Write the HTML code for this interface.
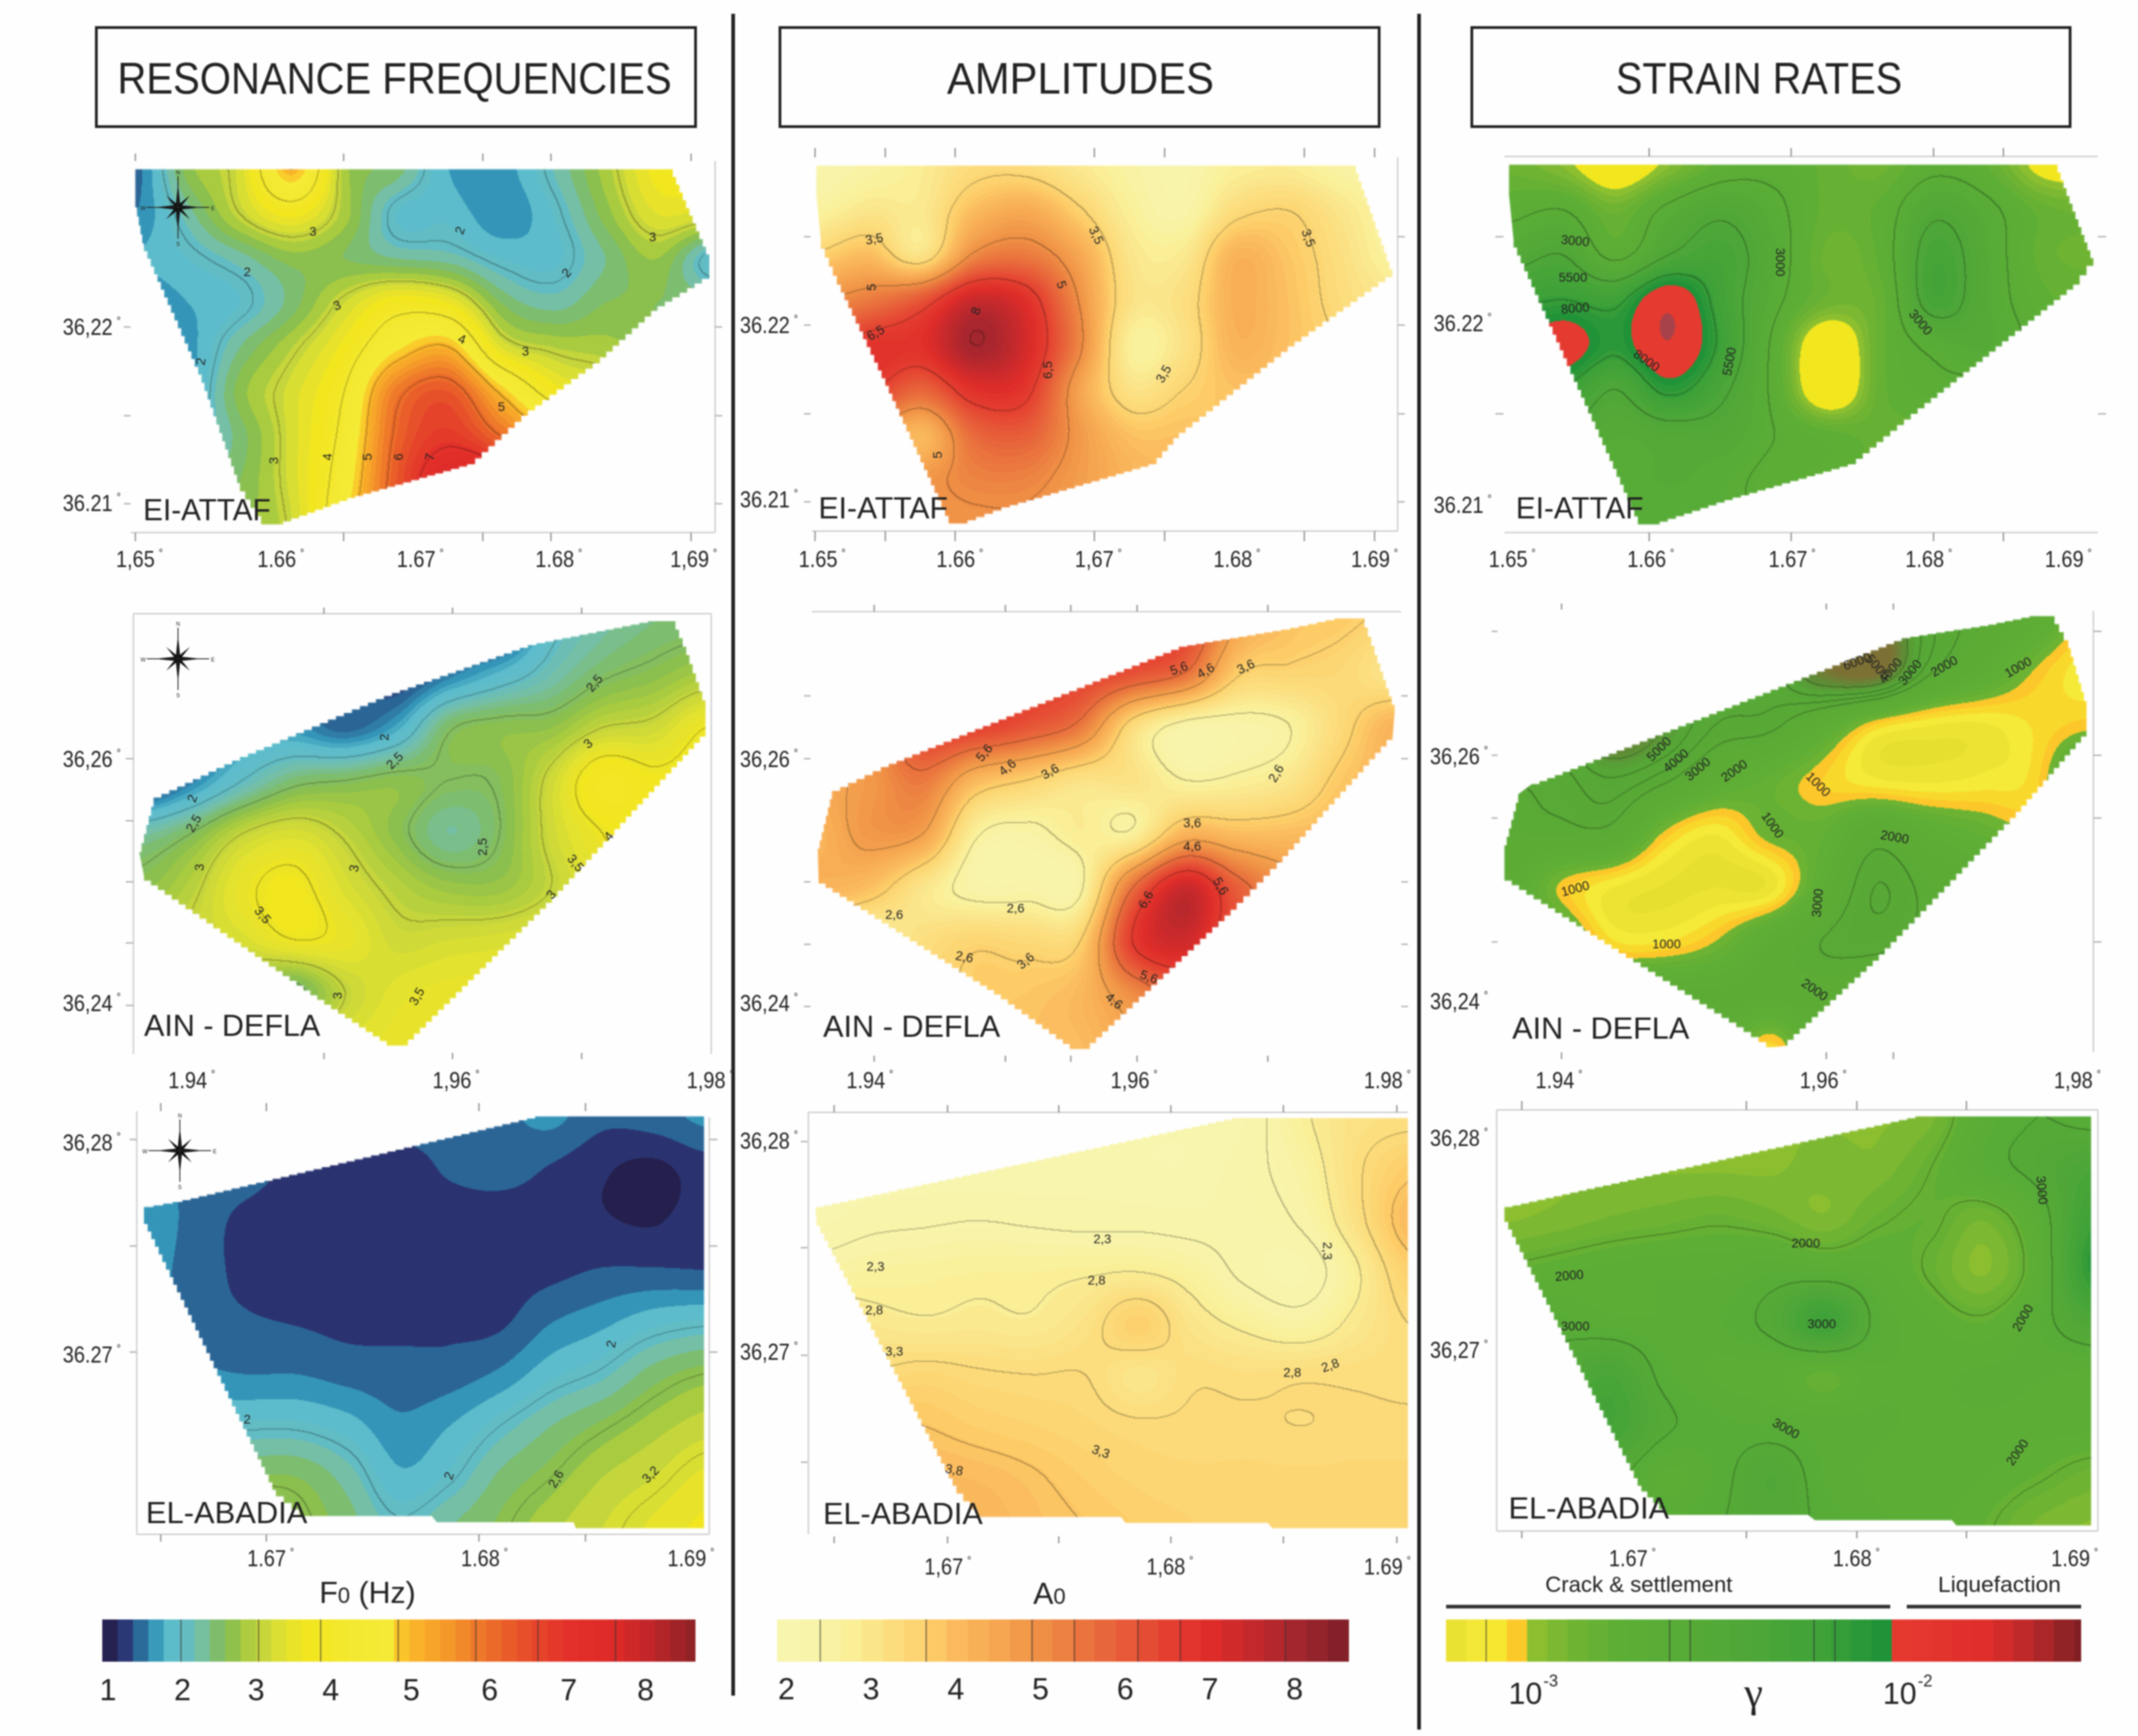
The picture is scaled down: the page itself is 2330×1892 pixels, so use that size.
<!DOCTYPE html>
<html lang="en">
<head>
<meta charset="utf-8">
<title>Resonance frequencies, amplitudes and strain rates</title>
<style>
html,body{margin:0;padding:0;background:#fefefe;}
#stage{position:relative;width:2330px;height:1892px;overflow:hidden;background:#fefefe;filter:blur(0.9px);}
#stage canvas{position:absolute;display:block;}
#overlay{position:absolute;left:0;top:0;}
#overlay text{font-family:"Liberation Sans",sans-serif;fill:#222;}
</style>
</head>
<body>
<div id="stage">
<svg id="overlay" width="2330" height="1892" viewBox="0 0 2330 1892">
  <rect x="105" y="30" width="653" height="108" fill="none" stroke="#222" stroke-width="3"/>
  <rect x="850" y="30" width="653" height="108" fill="none" stroke="#222" stroke-width="3"/>
  <rect x="1604" y="30" width="652" height="108" fill="none" stroke="#222" stroke-width="3"/>
  <text x="128" y="102" font-size="48" textLength="604" lengthAdjust="spacingAndGlyphs">RESONANCE FREQUENCIES</text>
  <text x="1032" y="102" font-size="48" textLength="291" lengthAdjust="spacingAndGlyphs">AMPLITUDES</text>
  <text x="1761" y="102" font-size="48" textLength="312" lengthAdjust="spacingAndGlyphs">STRAIN RATES</text>
  <line x1="799" y1="15" x2="799" y2="1848" stroke="#222" stroke-width="4"/>
  <line x1="1546.5" y1="15" x2="1546.5" y2="1885" stroke="#222" stroke-width="4"/>

  <g id="frames"></g>
  <g id="contour-labels"></g>
  <g id="tick-labels"></g>
  <g id="compasses"></g>
  <g id="colorbars"></g>

  <text x="156" y="567" font-size="33" textLength="139" lengthAdjust="spacingAndGlyphs">EI-ATTAF</text>
  <text x="892" y="565" font-size="33" textLength="141" lengthAdjust="spacingAndGlyphs">EI-ATTAF</text>
  <text x="1652" y="565" font-size="33" textLength="139" lengthAdjust="spacingAndGlyphs">EI-ATTAF</text>
  <text x="157" y="1129" font-size="33" textLength="192" lengthAdjust="spacingAndGlyphs">AIN - DEFLA</text>
  <text x="897" y="1130" font-size="33" textLength="193" lengthAdjust="spacingAndGlyphs">AIN - DEFLA</text>
  <text x="1648" y="1132" font-size="33" textLength="193" lengthAdjust="spacingAndGlyphs">AIN - DEFLA</text>
  <text x="159" y="1660" font-size="33" textLength="176" lengthAdjust="spacingAndGlyphs">EL-ABADIA</text>
  <text x="897" y="1661" font-size="33" textLength="174" lengthAdjust="spacingAndGlyphs">EL-ABADIA</text>
  <text x="1644" y="1655" font-size="33" textLength="175" lengthAdjust="spacingAndGlyphs">EL-ABADIA</text>

  <text x="348" y="1747" font-size="33">F<tspan font-size="24">0</tspan> (Hz)</text>
  <text x="1126" y="1748" font-size="33">A<tspan font-size="24">0</tspan></text>
  <text x="1684" y="1735" font-size="24" textLength="204" lengthAdjust="spacingAndGlyphs" fill="#444">Crack &amp; settlement</text>
  <text x="2112" y="1735" font-size="24" textLength="134" lengthAdjust="spacingAndGlyphs">Liquefaction</text>
  <line x1="1576" y1="1751" x2="2060" y2="1751" stroke="#333" stroke-width="4"/>
  <line x1="2078" y1="1751" x2="2268" y2="1751" stroke="#333" stroke-width="4"/>
  <text x="1644" y="1857" font-size="33">10</text>
  <text x="1682" y="1838" font-size="18">-3</text>
  <text x="1911" y="1860" font-size="46" text-anchor="middle" style="font-family:'Liberation Serif',serif">γ</text>
  <text x="2052" y="1857" font-size="33">10</text>
  <text x="2090" y="1838" font-size="18">-2</text>
</svg>
</div>

<script>
/* ---------- colour scales: [value, colour] ---------- */
const f0Stops=[[0.9,'#241f4d'],[1,'#241f4d'],[1.2,'#2a3370'],[1.4,'#2a6596'],[1.6,'#3495b8'],[1.8,'#5cbccb'],[2,'#62bcc4'],[2.2,'#75bfa6'],[2.4,'#7dbd70'],[2.6,'#8bbf4e'],[2.8,'#a9cb3f'],[3,'#c5d53c'],[3.3,'#e3e22f'],[3.6,'#f2e61f'],[4.2,'#f4e932'],[4.7,'#f5ea35'],[4.85,'#fbbd28'],[5.4,'#f59a2a'],[5.8,'#ee7a2a'],[6.2,'#e95e29'],[6.6,'#e5442a'],[7,'#e3302a'],[7.6,'#dd2a28'],[8,'#c5262a'],[8.65,'#8b2225']];
const a0Stops=[[1.9,'#f8f6b0'],[2.4,'#f8f3a8'],[2.7,'#faf09a'],[3,'#fbe58a'],[3.4,'#fcd977'],[3.7,'#fdcd68'],[4,'#fbbb5e'],[4.5,'#f6a750'],[5,'#ef8f45'],[5.5,'#ea743e'],[6,'#e75a38'],[6.5,'#e43f30'],[7,'#df2c2a'],[7.5,'#c4292c'],[8,'#a4262e'],[8.65,'#7c1f28']];
const strainStops=[[-3.22,'#e6df30'],[-3.12,'#f5ea38'],[-3.06,'#f7e52e'],[-3.03,'#fbcb2a'],[-3,'#fcc52a'],[-2.995,'#93c22f'],[-2.88,'#72b433'],[-2.75,'#5dae35'],[-2.45,'#52a838'],[-2.2,'#3fa238'],[-2.02,'#1d9038'],[-2,'#e53a30'],[-1.75,'#e02d2a'],[-1.62,'#b5282a'],[-1.49,'#7a1e22']];
const strainAttafStops=[[-3.22,'#f2e61f'],[-3.0,'#f2e61f'],[-2.995,'#93c22f'],[-2.88,'#72b433'],[-2.75,'#5dae35'],[-2.45,'#52a838'],[-2.2,'#3fa238'],[-2.02,'#1d9038'],[-2,'#e53a30'],[-1.81,'#e53a30'],[-1.77,'#a8424a'],[-1.5,'#a8424a']];
const strainBrownStops=[[-3.22,'#e6df30'],[-3.14,'#f5ea38'],[-3.09,'#f7e52e'],[-3.07,'#fbcb2a'],[-3,'#fcc52a'],[-2.995,'#6fb433'],[-2.88,'#5fae35'],[-2.3,'#55a636'],[-2.15,'#5f8c36'],[-2,'#7d7035'],[-1.5,'#7d7035']];

/* ---------- gridded field values (rows north to south) ---------- */
const f0Attaf=[
[1.4,2.6,3.2,5.0,2.8,2.4,1.7,1.6,2.1,2.8,3.6,3.6],
[1.5,2.2,3.0,3.6,2.8,1.9,1.85,1.55,1.9,2.6,3.3,3.2],
[1.7,1.9,2.2,2.6,2.5,2.3,2.2,1.9,1.85,2.3,2.7,1.9],
[1.5,1.7,1.9,2.4,3.1,3.7,3.5,2.5,2.2,2.5,2.5,2.4],
[1.4,1.6,2.3,2.9,3.6,4.6,5.0,3.3,2.9,2.8,2.6,2.5],
[1.4,1.6,2.6,3.2,4.0,5.8,6.3,4.9,3.7,3.3,3,3],
[1.5,1.8,2.4,3.2,4.2,6.1,6.8,6.0,5,4,4,4],
[2,2.2,2.5,3.2,4.4,6.3,7.6,7.5,6,5,5,5],
[2.4,2.5,2.6,3.1,4.6,6.4,7.6,7.6,6,5,5,5]];
const f0Defla=[
[1.6,1.6,1.6,1.6,1.6,1.6,1.4,1.1,1.9,2.2,2.35,2.4],
[1.6,1.6,1.6,1.6,1.6,1.25,1.5,1.8,2.15,2.45,2.6,2.8],
[1.3,1.3,1.6,1.6,1.4,1.7,2.45,2.6,2.65,3.0,3.1,3.5],
[1.1,1.5,2.0,2.4,2.5,2.6,2.5,2.55,3.1,3.8,3.6,3.7],
[2.2,2.5,3.0,3.2,2.95,2.6,2.25,2.5,3.1,3.5,3.7,3.8],
[2.6,2.9,3.4,3.6,3.2,2.9,2.7,2.7,3.0,3.4,3.6,3.8],
[2.8,3.0,3.2,3.5,3.4,3.1,3.15,3.2,3.3,3.4,3.4,3.4],
[2.6,2.6,2.6,2.4,3.0,3.3,3.4,3.4,3.4,3.4,3.4,3.4],
[3.3,3.3,3.3,3.3,3.3,3.4,3.5,3.5,3.5,3.5,3.5,3.5]];
const f0Abadia=[
[1.6,1.6,1.5,1.45,1.45,1.4,1.4,1.45,1.55,1.35,1.4,1.55],
[1.6,1.45,1.4,1.25,1.2,1.2,1.33,1.38,1.28,1.13,1.05,1.2],
[1.65,1.42,1.25,1.2,1.2,1.2,1.2,1.2,1.2,1.12,1.08,1.2],
[1.6,1.4,1.25,1.2,1.2,1.2,1.2,1.22,1.25,1.32,1.33,1.31],
[1.6,1.4,1.33,1.29,1.25,1.25,1.25,1.27,1.5,1.65,1.85,1.95],
[1.6,1.55,1.5,1.5,1.42,1.38,1.4,1.55,1.85,2.05,2.4,2.6],
[1.9,1.9,1.95,1.95,1.8,1.55,1.7,2.0,2.3,2.55,2.8,3.0],
[2.4,2.4,2.5,2.5,2.2,1.75,1.95,2.35,2.6,2.9,3.1,3.35],
[2.9,2.9,2.9,2.7,2.4,2.05,2.3,2.55,2.85,3.1,3.35,3.55]];
const a0Attaf=[
[2.3,2.5,2.8,3.3,3.3,2.9,2.5,2.3,2.7,2.8,2.5,2.4],
[2.6,3.0,2.9,4.0,4.4,3.6,2.7,2.4,3.3,3.5,3.0,2.5],
[3.6,4.0,3.1,5.1,5.4,4.5,3.0,2.9,4.2,3.8,3.2,2.6],
[5.0,5.4,6.1,7.4,6.9,5.0,3.1,3.2,4.3,3.9,3.3,3.0],
[6.2,6.8,6.9,8.0,7.2,5.2,2.7,3.1,4.2,3.9,3.5,3.3],
[6.6,6.6,5.8,6.9,6.7,4.6,3.1,3.5,3.9,3.8,3.6,3.5],
[5,5,4.1,5.7,5.9,4.8,3.9,3.9,3.8,3.8,3.8,3.8],
[4.8,4.8,4.8,5.2,5.2,4.7,4.2,4,4,4,4,4],
[4.8,4.8,4.8,4.9,4.9,4.6,4.2,4,4,4,4,4]];
const a0Defla=[
[6.5,6.5,6.5,6.5,6.5,6.5,6.5,6.5,4.6,3.9,3.7,3.5],
[6.5,6.5,6.5,6.5,6.5,6.5,6.2,5.6,3.7,3.5,3.4,3.0],
[4,5,6.5,6.5,6.1,5.4,3.3,2.4,2.4,2.6,3.4,4.2],
[4.4,4.8,5.4,4.1,3.6,3.1,3.1,2.6,2.7,3.0,3.8,4.2],
[4.2,4.8,4.6,2.7,2.45,2.8,2.7,4.2,4.0,4.0,4.2,4.4],
[4.2,3.9,3.0,2.4,2.4,2.5,5.6,7.4,5.9,5,5,5],
[3,2.7,3.2,3.5,3.4,3.6,6.6,7.3,6.0,6,6,6],
[3.5,3.5,3.5,3.7,3.8,4.1,5.0,5.9,6,6,6,6],
[3.8,3.8,3.8,3.8,3.9,4.0,4.5,5,5,5,5,5]];
const a0Abadia=[
[2,2,2,2,2,2,2,2,2.1,2.7,3.1,3.2],
[2,2,2,2,2,2.05,2,2,2.2,2.5,3.2,3.7],
[2.05,2.2,2.25,2.3,2.25,2.2,2.2,2.15,2.2,2.35,3.1,4.0],
[2.5,2.6,2.65,2.7,2.7,2.75,2.8,2.6,2.2,2.05,2.7,3.6],
[3.2,2.95,2.85,2.9,2.85,3.1,3.6,3.0,2.7,2.5,2.9,3.3],
[3.5,3.35,3.45,3.35,3.3,3.3,3.0,3.25,3.2,3.25,3.25,3.25],
[3.85,3.85,3.8,3.65,3.55,3.45,3.35,3.35,3.35,3.3,3.35,3.35],
[4.05,4.05,4.05,4.0,3.85,3.65,3.5,3.45,3.45,3.45,3.45,3.45],
[4.15,4.15,4.15,4.15,3.95,3.8,3.65,3.55,3.5,3.5,3.5,3.5]];
const strainAttaf=[
[-2.85,-2.95,-3.15,-2.95,-2.75,-2.7,-2.8,-2.85,-2.7,-2.78,-3.05,-3.1],
[-2.7,-2.65,-2.85,-2.6,-2.45,-2.6,-2.8,-2.75,-2.45,-2.6,-2.8,-2.85],
[-2.5,-2.4,-2.7,-2.4,-2.3,-2.55,-2.85,-2.75,-2.3,-2.55,-2.8,-2.85],
[-2.2,-2.15,-2.2,-1.85,-2.25,-2.6,-2.85,-2.8,-2.3,-2.55,-2.75,-2.8],
[-2.05,-1.9,-2.1,-1.8,-2.2,-2.7,-3.18,-2.8,-2.6,-2.55,-2.7,-2.8],
[-2,-2.15,-2.4,-2.1,-2.35,-2.7,-3.18,-2.8,-2.7,-2.7,-2.7,-2.7],
[-2.3,-2.4,-2.55,-2.5,-2.5,-2.65,-2.75,-2.8,-2.8,-2.8,-2.8,-2.8],
[-2.6,-2.6,-2.6,-2.55,-2.6,-2.7,-2.75,-2.8,-2.8,-2.8,-2.8,-2.8],
[-2.6,-2.6,-2.6,-2.6,-2.6,-2.7,-2.75,-2.8,-2.8,-2.8,-2.8,-2.8]];
const strainDefla=[
[-2.4,-2.4,-2.4,-2.4,-2.4,-2.4,-2.2,-2.0,-2.4,-2.6,-2.75,-3.02],
[-2.4,-2.4,-2.4,-2.4,-2.4,-2.4,-2.05,-1.95,-2.5,-2.75,-3.0,-3.15],
[-2.4,-2.4,-2.0,-2.2,-2.45,-2.5,-2.75,-3.05,-3.15,-3.17,-3.1,-3.03],
[-2.55,-2.5,-2.35,-2.5,-2.75,-2.9,-3.05,-3.16,-3.18,-3.15,-3.08,-2.7],
[-2.6,-2.6,-2.6,-3.0,-3.15,-2.95,-2.9,-2.65,-2.8,-2.9,-3.0,-3.0],
[-2.7,-3.0,-3.15,-3.22,-3.22,-3.2,-2.8,-2.45,-2.6,-2.7,-2.7,-2.7],
[-2.8,-2.8,-3.1,-3.12,-3.0,-2.75,-2.55,-2.5,-2.6,-2.7,-2.7,-2.7],
[-2.7,-2.7,-2.7,-2.7,-2.7,-2.7,-2.65,-2.7,-2.7,-2.7,-2.7,-2.7],
[-2.7,-2.7,-2.7,-2.7,-2.7,-3.08,-2.7,-2.7,-2.7,-2.7,-2.7,-2.7]];
const strainAbadia=[
[-2.95,-2.95,-2.95,-2.95,-2.95,-2.95,-2.95,-2.95,-2.9,-2.65,-2.55,-2.6],
[-2.95,-2.95,-2.95,-2.95,-2.95,-2.95,-2.92,-2.92,-2.8,-2.62,-2.5,-2.35],
[-2.95,-2.92,-2.88,-2.85,-2.82,-2.86,-2.93,-2.82,-2.78,-2.88,-2.65,-2.2],
[-2.78,-2.74,-2.7,-2.68,-2.68,-2.63,-2.66,-2.7,-2.82,-2.95,-2.7,-2.1],
[-2.6,-2.6,-2.65,-2.66,-2.62,-2.5,-2.2,-2.6,-2.72,-2.78,-2.62,-2.4],
[-2.5,-2.48,-2.35,-2.6,-2.68,-2.7,-2.78,-2.68,-2.68,-2.66,-2.66,-2.68],
[-2.38,-2.35,-2.28,-2.52,-2.6,-2.62,-2.65,-2.66,-2.68,-2.68,-2.7,-2.7],
[-2.5,-2.5,-2.5,-2.68,-2.6,-2.45,-2.62,-2.68,-2.7,-2.72,-2.78,-2.85],
[-2.6,-2.6,-2.6,-2.62,-2.56,-2.48,-2.58,-2.66,-2.7,-2.78,-2.9,-2.95]];

/* ---------- contour levels and printed contour labels ---------- */
const f0AttafLevels=[2,3,4,5,6,7];
const f0DeflaLevels=[2,2.5,3,3.5];
const f0AbadiaLevels=[2,2.6,3.2];
const a0AttafLevels=[3.5,5,6.5,8];
const a0DeflaLevels=[2.6,3.6,4.6,5.6,6.6];
const a0AbadiaLevels=[2.3,2.8,3.3,3.8];
const strainAttafLevels=[-2.65,-2.4,-2.15];
const strainDeflaLevels=[-2.55,-2.45,-2.35,-2.2];
const strainAbadiaLevels=[-2.8,-2.55];

/* ---------- colourbar axes ---------- */
const f0TickLabels=['1','2','3','4','5','6','7','8'];
const f0TickValues=[1,1.97,2.93,3.9,4.95,5.97,7,8];
const f0RuleValues=[1.95,2.96,3.77,4.78,5.79,6.6,7.61];
const a0TickLabels=['2','3','4','5','6','7','8'];
const a0TickValues=[2,3,4,5,6,7,8];
const a0RuleValues=[2.4,3.65,4.9,5.4,6.15,6.65,7.89];
const strainRuleValues=[-3.109,-2.611,-2.555,-2.219,-2.162];

const crops={
 a1:{ox:0,oy:0,sx:1.912,sy:2.45},b1:{ox:800,oy:0,sx:2.063,sy:2.45},c1:{ox:1550,oy:0,sx:2.01,sy:2.45},
 a2:{ox:0,oy:640,sx:1.912,sy:2.703},b2:{ox:800,oy:640,sx:2.063,sy:2.703},c2:{ox:1550,oy:640,sx:2.01,sy:2.703},
 a3:{ox:0,oy:1200,sx:1.912,sy:2.266},b3:{ox:800,oy:1200,sx:2.063,sy:2.266},c3:{ox:1550,oy:1200,sx:2.01,sy:2.266}
};
const SVGNS='http://www.w3.org/2000/svg';
function hexRgb(h){return [parseInt(h.slice(1,3),16),parseInt(h.slice(3,5),16),parseInt(h.slice(5,7),16)];}
function colorAt(stops,v){
  if(v<=stops[0][0])return hexRgb(stops[0][1]);
  for(let i=1;i<stops.length;i++){
    if(v<=stops[i][0]){
      const a=stops[i-1],b=stops[i],t=(v-a[0])/(b[0]-a[0]),ca=hexRgb(a[1]),cb=hexRgb(b[1]);
      return [ca[0]+(cb[0]-ca[0])*t,ca[1]+(cb[1]-ca[1])*t,ca[2]+(cb[2]-ca[2])*t];
    }
  }
  return hexRgb(stops[stops.length-1][1]);
}
function cr(a,b,c,d,t){return 0.5*((2*b)+(-a+c)*t+(2*a-5*b+4*c-d)*t*t+(-a+3*b-3*c+d)*t*t*t);}
function svgEl(tag,parent,attrs){
  const el=document.createElementNS(SVGNS,tag);
  for(const k in attrs)el.setAttribute(k,attrs[k]);
  parent.appendChild(el);
  return el;
}

function renderMap(p){
  const o=crops[p.crop],X=z=>o.ox+z/o.sx,Y=z=>o.oy+z/o.sy;
  const pts=p.outline.map(q=>[X(q[0]),Y(q[1])]);
  const xs=pts.map(q=>q[0]),ys=pts.map(q=>q[1]);
  const left=Math.floor(Math.min(...xs))-2,top=Math.floor(Math.min(...ys))-2;
  const W=Math.ceil(Math.max(...xs))+2-left,H=Math.ceil(Math.max(...ys))+2-top;
  const cv=document.createElement('canvas');
  
  
  cv.width=W;cv.height=H;cv.style.left=left+'px';cv.style.top=top+'px';
  document.getElementById('stage').insertBefore(cv,document.getElementById('overlay'));
  const ctx=cv.getContext('2d');
  const rows=p.values.length,cols=p.values[0].length;
  const gx0=X(p.gridX[0]),gx1=X(p.gridX[1]),gy0=Y(p.gridY[0]),gy1=Y(p.gridY[1]);
  const f=new Float32Array(W*H),line=new Float32Array(cols);
  const cl=(i,n)=>Math.max(0,Math.min(n-1,i));
  for(let y=0;y<H;y++){
    const gy=Math.max(0,Math.min(rows-1,(y+top-gy0)/(gy1-gy0)*(rows-1)));
    const j=Math.min(rows-2,Math.floor(gy)),ty=gy-j;
    for(let c=0;c<cols;c++)line[c]=cr(p.values[cl(j-1,rows)][c],p.values[j][c],p.values[j+1][c],p.values[cl(j+2,rows)][c],ty);
    for(let x=0;x<W;x++){
      const gx=Math.max(0,Math.min(cols-1,(x+left-gx0)/(gx1-gx0)*(cols-1)));
      const i=Math.min(cols-2,Math.floor(gx)),tx=gx-i;
      f[y*W+x]=cr(line[cl(i-1,cols)],line[i],line[i+1],line[cl(i+2,cols)],tx);
    }
  }
  const img=ctx.createImageData(W,H),d=img.data,cache=new Map();
  for(let k=0;k<W*H;k++){
    const q=Math.round(f[k]/p.step);
    let c=cache.get(q);
    if(!c){c=colorAt(p.stops,q*p.step);cache.set(q,c);}
    let m=1;
    const v=f[k];
    const r=(k%W<W-1)?f[k+1]:v,b=(k+W<W*H)?f[k+W]:v;
    for(const l of p.levels){
      if((v-l)*(r-l)<0||(v-l)*(b-l)<0){m=0.68;break;}
    }
    d[k*4]=c[0]*m;d[k*4+1]=c[1]*m;d[k*4+2]=c[2]*m;d[k*4+3]=255;
  }
  ctx.putImageData(img,0,0);
  ctx.globalCompositeOperation='destination-in';
  ctx.beginPath();
  pts.forEach((a,i)=>{
    const b=pts[(i+1)%pts.length];
    if(i===0)ctx.moveTo(a[0]-left,a[1]-top);
    const dx=b[0]-a[0],dy=b[1]-a[1],len=Math.hypot(dx,dy);
    if(Math.abs(dx)>6&&Math.abs(dy)>6&&len>22){
      const n=Math.floor(len/9);
      for(let s=1;s<=n;s++){
        const px=a[0]+dx*s/n,py=a[1]+dy*s/n,qy=a[1]+dy*(s-1)/n;
        ctx.lineTo(px-left,qy-top);
        ctx.lineTo(px-left,py-top);
      }
    }else ctx.lineTo(b[0]-left,b[1]-top);
  });
  ctx.closePath();ctx.fill();
  /* printed contour labels */
  const lg=document.getElementById('contour-labels');
  p.labels.forEach(L=>{
    const t=svgEl('text',lg,{'font-size':14,'text-anchor':'middle','transform':'translate('+X(L[1])+' '+Y(L[2])+') rotate('+L[3]+')','dy':5});
    
    
    t.textContent=L[0];
  });
}

function drawFrame(f){
  const o=crops[f.crop],X=z=>o.ox+z/o.sx,Y=z=>o.oy+z/o.sy;
  const g=document.getElementById('frames');
  const seg=(a,b,c,d,col)=>{
    const l=svgEl('line',g,{x1:X(a),y1:Y(b),x2:X(c),y2:Y(d),stroke:col,'stroke-width':1.6});
    
    
  };
  f.lines.forEach(q=>seg(q[0],q[1],q[2],q[3],'#cfcfcf'));
  f.xTicks.forEach(x=>{f.xBands.forEach(b=>seg(x,b[0],x,b[1],'#9a9a9a'));});
  f.yTicks.forEach(t=>{f.yBands.forEach(b=>seg(b[0],t,b[1],t,'#b5b5b5'));});
}
function tickLabel(str,x,y,anchor){
  const g=document.getElementById('tick-labels');
  const t=svgEl('text',g,{'font-size':25,'text-anchor':anchor,'transform':'translate('+x+' '+y+') scale(.87 1)','fill':'#333'});
  
  
  t.appendChild(document.createTextNode(str));
  const s=svgEl('tspan',t,{'font-size':13,'dy':-11,'dx':5});
  s.textContent='°';
}
function compass(x,y){
  const g=svgEl('g',document.getElementById('compasses'),{transform:'translate('+x+' '+y+')'});
  
  
  svgEl('polygon',g,{points:'0,-26 2.4,-2.4 26,0 2.4,2.4 0,26 -2.4,2.4 -26,0 -2.4,-2.4',fill:'#111'});
  svgEl('polygon',g,{points:'13,-13 2.6,0 13,13 0,2.6 -13,13 -2.6,0 -13,-13 0,-2.6',fill:'#111'});
  svgEl('line',g,{x1:0,y1:-34,x2:0,y2:34,stroke:'#222','stroke-width':1});
  svgEl('line',g,{x1:-34,y1:0,x2:34,y2:0,stroke:'#222','stroke-width':1});
  [['N',0,-36],['S',0,42],['E',38,3],['W',-38,3]].forEach(a=>{
    const t=svgEl('text',g,{x:a[1],y:a[2],'font-size':6,'text-anchor':'middle'});
    t.textContent=a[0];
  });
}
function drawBar(b){
  const g=svgEl('g',document.getElementById('colorbars'),{});
  
  
  const xOf=v=>b.x0+(v-b.v0)*b.k;
  const n=Math.ceil((b.vMax-b.vMin)/b.step-1e-6);
  for(let i=0;i<n;i++){
    const v=b.vMin+i*b.step,v2=Math.min(b.vMax,v+b.step),c=colorAt(b.stops,(v+v2)/2);
    const r=svgEl('rect',g,{x:xOf(v),y:b.y,width:(v2-v)*b.k+(i<n-1?0.6:0),height:b.h,fill:'rgb('+c.map(Math.round).join(',')+')'});
    
    
  }
  b.rules.forEach(v=>{
    const l=svgEl('line',g,{x1:xOf(v),x2:xOf(v),y1:b.y,y2:b.y+b.h,stroke:'#333','stroke-opacity':.7,'stroke-width':1.2});
    
    
  });
  b.labels.forEach((s,i)=>{
    const t=svgEl('text',g,{x:xOf(b.ticks[i]),y:b.labelY,'font-size':33,'text-anchor':'middle'});
    
    
    t.textContent=s;
  });
}

/* ---------- maps ---------- */
renderMap({name:'map-attaf-resonance',crop:'a1',values:f0Attaf,levels:f0AttafLevels,stops:f0Stops,step:.2,
 gridX:[282,1478],gridY:[452,1400],
 outline:[[282,452],[1395,452],[1478,700],[1478,745],[1370,830],[1250,970],[1100,1110],[990,1240],[740,1330],[590,1400],[555,1400],[500,1290],[420,1000],[300,650],[282,530]],
 labels:[['3',652,617,0],['2',958,615,-70],['3',1360,632,0],['2',515,725,0],['2',1180,728,-50],['3',702,815,-20],['4',963,905,20],['3',1095,937,0],['5',1045,1085,0],['2',418,965,-80],['3',570,1230,-90],['4',682,1220,-90],['5',765,1220,-90],['6',830,1220,-90],['7',895,1220,-80]]});
renderMap({name:'map-attaf-amplitude',crop:'b1',values:a0Attaf,levels:a0AttafLevels,stops:a0Stops,step:.12,
 gridX:[185,1480],gridY:[442,1398],
 outline:[[185,442],[1392,442],[1480,740],[1260,925],[1000,1170],[950,1240],[620,1355],[525,1398],[490,1398],[340,1010],[240,760],[195,640],[185,520]],
 labels:[['3,5',315,637,-10],['5',308,767,-90],['6,5',318,888,-30],['8',543,830,-70],['5',737,760,70],['3,5',815,628,65],['6,5',705,988,-90],['3,5',965,998,-60],['3,5',1292,635,70],['5',457,1215,-90]]});
renderMap({name:'map-attaf-strain',crop:'c1',values:strainAttaf,levels:strainAttafLevels,stops:strainAttafStops,step:.055,
 gridX:[190,1470],gridY:[440,1400],
 outline:[[190,440],[1385,440],[1470,710],[1440,760],[1100,1090],[950,1240],[680,1335],[520,1400],[480,1400],[340,1020],[200,640],[190,520]],
 labels:[['3000',335,642,5],['5500',330,740,0],['8000',335,822,-5],['3000',785,700,90],['8000',492,962,35],['5500',672,965,-80],['3000',1092,860,50]]});
renderMap({name:'map-defla-resonance',crop:'a2',values:f0Defla,levels:f0DeflaLevels,stops:f0Stops,step:.1,
 gridX:[290,1470],gridY:[100,1350],
 outline:[[1350,100],[1400,100],[1430,200],[1470,360],[1470,440],[1150,930],[850,1350],[820,1350],[690,1230],[300,850],[290,780],[320,620],[500,500],[800,320],[1100,170]],
 labels:[['2',400,622,-70],['2,5',403,695,-60],['2',800,442,-90],['2,5',822,510,-45],['3',1225,460,-40],['2,5',1238,282,-50],['3',737,828,-80],['3',415,825,-90],['2,5',1005,765,-90],['3,5',548,965,50],['4',1268,733,-50],['3,5',1200,812,50],['3',1148,905,-50],['3',703,1203,-90],['3,5',868,1205,-60]]});
renderMap({name:'map-defla-amplitude',crop:'b2',values:a0Defla,levels:a0DeflaLevels,stops:a0Stops,step:.12,
 gridX:[188,1485],gridY:[92,1360],
 outline:[[1350,92],[1410,92],[1440,200],[1485,370],[1480,450],[1220,830],[1130,950],[800,1360],[770,1360],[600,1200],[190,860],[188,770],[220,600],[330,530],[1000,175],[1230,125]],
 labels:[['5,6',562,487,-50],['4,6',614,530,-40],['3,6',710,542,-30],['5,6',1000,238,-20],['4,6',1060,245,-30],['3,6',1150,233,-25],['2,6',1218,548,-60],['3,6',1030,693,0],['4,6',1030,762,0],['5,6',1095,880,60],['6,6',925,920,-60],['2,6',360,963,0],['2,6',633,945,0],['2,6',518,1088,10],['3,6',655,1100,-40],['5,6',933,1147,20],['4,6',855,1218,40]]});
renderMap({name:'map-defla-strain',crop:'c2',values:strainDefla,levels:strainDeflaLevels,stops:strainBrownStops,step:.055,
 gridX:[180,1455],gridY:[85,1355],
 outline:[[1330,85],[1375,85],[1415,180],[1455,360],[1455,440],[1300,680],[1000,1100],[800,1350],[770,1355],[720,1310],[430,1065],[260,920],[180,850],[180,760],[210,610],[240,580],[1050,150],[1240,110]],
 labels:[['6000',952,218,-20],['5000',998,235,50],['4000',1025,245,-50],['3000',1068,250,-50],['2000',1143,232,-30],['1000',1305,235,-30],['5000',518,476,-45],['4000',555,510,-40],['3000',603,535,-40],['2000',683,540,-35],['1000',868,580,45],['1000',768,700,55],['1000',335,887,-15],['1000',535,1050,0],['2000',1035,735,10],['3000',865,930,-85],['2000',860,1185,35]]});
renderMap({name:'map-abadia-resonance',crop:'a3',values:f0Abadia,levels:f0AbadiaLevels,stops:f0Stops,step:.2,
 gridX:[300,1467],gridY:[38,1055],
 outline:[[300,262],[380,245],[1115,38],[1467,38],[1467,1055],[1200,1055],[1195,1040],[910,1040],[900,1025],[640,1025],[575,960],[300,285]],
 labels:[['2',1273,600,-80],['2',515,785,0],['2',935,925,-70],['2,6',1158,933,-60],['3,2',1355,922,-45]]});
renderMap({name:'map-abadia-amplitude',crop:'b3',values:a0Abadia,levels:a0AbadiaLevels,stops:a0Stops,step:.12,
 gridX:[183,1515],gridY:[42,1055],
 outline:[[183,262],[1120,42],[1515,42],[1515,1055],[1210,1055],[1200,1042],[880,1042],[870,1027],[560,1027],[500,950],[185,290]],
 labels:[['2,3',318,408,0],['2,3',828,340,0],['2,3',1335,370,90],['2,8',815,442,0],['2,8',315,515,0],['3,3',360,618,0],['2,8',1255,670,0],['2,8',1340,652,-20],['3,3',825,865,20],['3,8',495,910,10]]});
renderMap({name:'map-abadia-strain',crop:'c3',values:strainAbadia,levels:strainAbadiaLevels,stops:strainStops,step:.055,
 gridX:[180,1465],gridY:[38,1048],
 outline:[[180,262],[1080,38],[1465,38],[1465,1048],[1170,1048],[1160,1035],[860,1035],[845,1022],[545,1022],[480,950],[180,280]],
 labels:[['2000',840,350,0],['2000',322,430,-5],['3000',335,555,0],['3000',1358,220,85],['3000',875,550,0],['2000',1315,535,-60],['3000',797,808,30],['2000',1303,867,-55]]});

/* ---------- frames ---------- */
drawFrame({crop:'a1',lines:[[272,1422,1490,1422],[1490,430,1490,1422]],xTicks:[282,716,1006,1148,1440],xBands:[[410,430],[1422,1445]],yTicks:[873,1110,1345],yBands:[[258,272],[1490,1505]]});
drawFrame({crop:'b1',lines:[[175,1418,1492,1418],[1492,420,1492,1418]],xTicks:[182,340,497,810,968,1282,1440],xBands:[[395,420],[1418,1445]],yTicks:[632,868,1105,1340],yBands:[[157,172],[1492,1508]]});
drawFrame({crop:'c1',lines:[[180,418,1480,418],[180,1422,1480,1422]],xTicks:[497,808,1120,1273],xBands:[[395,418],[1422,1445]],yTicks:[632,1105],yBands:[[160,178],[1480,1498]]});
drawFrame({crop:'a2',lines:[[278,78,1482,78],[278,78,278,1375],[1482,78,1482,1375]],xTicks:[675,943,1212],xBands:[[60,78],[1372,1390]],yTicks:[505,688,868,1048,1232],yBands:[[262,278]]});
drawFrame({crop:'b2',lines:[[175,72,1500,72]],xTicks:[315,610,757,906,1200],xBands:[[52,72],[1380,1398]],yTicks:[320,505,868,1052,1235],yBands:[[157,172],[1500,1515]]});
drawFrame({crop:'c2',lines:[[1470,70,1470,1370]],xTicks:[305,885,1032],xBands:[[48,66],[1370,1390]],yTicks:[130,495,680,1045],yBands:[[152,165],[1470,1488]]});
drawFrame({crop:'a3',lines:[[285,25,285,1070],[285,1070,1478,1070],[1478,40,1478,1070]],xTicks:[335,555,998,1220],xBands:[[5,25],[1070,1088]],yTicks:[95,358,620],yBands:[[270,285],[1478,1495]]});
drawFrame({crop:'b3',lines:[[167,28,167,1070],[167,28,1515,28]],xTicks:[225,480,730,982,1235,1490],xBands:[[10,28],[1075,1092]],yTicks:[100,362,628,892],yBands:[[150,165]]});
drawFrame({crop:'c3',lines:[[163,22,1480,22],[163,22,163,1062],[1480,22,1480,1062],[163,1062,1480,1062]],xTicks:[218,710,952,1192],xBands:[[0,22],[1062,1080]],yTicks:[],yBands:[]});

/* ---------- tick labels ---------- */
[['1,65',152,618],['1.66',306,618],['1.67',458,618],['1.68',609,618],['1,69',756,618],
 ['1.65',896,618],['1.66',1046,618],['1,67',1197,618],['1.68',1348,618],['1.69',1498,618],
 ['1.65',1648,618],['1.66',1799,618],['1.67',1953,618],['1.68',2102,618],['1.69',2254,618],
 ['1.94',209,1186],['1,96',497,1186],['1,98',774,1186],
 ['1.94',948,1186],['1,96',1236,1186],['1.98',1512,1186],
 ['1.94',1699,1186],['1,96',1987,1186],['1,98',2264,1186],
 ['1.67',295,1707],['1.68',528,1707],['1.69',753,1707],
 ['1,67',1033,1716],['1,68',1275,1716],['1.69',1512,1716],
 ['1.67',1779,1707],['1.68',2023,1707],['1.69',2261,1707],
 ['36,22',100,365],['36.21',100,557],['36.22',838,363],['36.21',838,553],['36.22',1594,361],['36.21',1594,559],
 ['36,26',100,836],['36,24',100,1102],['36,26',838,836],['36,24',838,1102],['36,26',1590,833],['36,24',1590,1100],
 ['36,28',100,1254],['36.27',100,1485],['36,28',838,1252],['36,27',838,1482],['36,28',1590,1249],['36,27',1590,1480]
].forEach(L=>tickLabel(L[0],L[1],L[2],'middle'));

compass(194,226);
compass(194,718);
compass(196,1254);

/* ---------- colourbars ---------- */
drawBar({name:'colorbar-resonance',stops:f0Stops,step:.2,vMin:.925,vMax:8.65,v0:1,x0:117.7,k:83.69,y:1765,h:46,rules:f0RuleValues,labels:f0TickLabels,ticks:f0TickValues,labelY:1853});
drawBar({name:'colorbar-amplitude',stops:a0Stops,step:.25,vMin:1.89,vMax:8.64,v0:2,x0:857,k:92.33,y:1765,h:46,rules:a0RuleValues,labels:a0TickLabels,ticks:a0TickValues,labelY:1852});
drawBar({name:'colorbar-strain',stops:strainStops,step:.055,vMin:-3.218,vMax:-1.494,v0:-3,x0:1663.4,k:401.5,y:1765,h:46,rules:strainRuleValues,labels:[],ticks:[],labelY:0});
</script>
</body>
</html>
